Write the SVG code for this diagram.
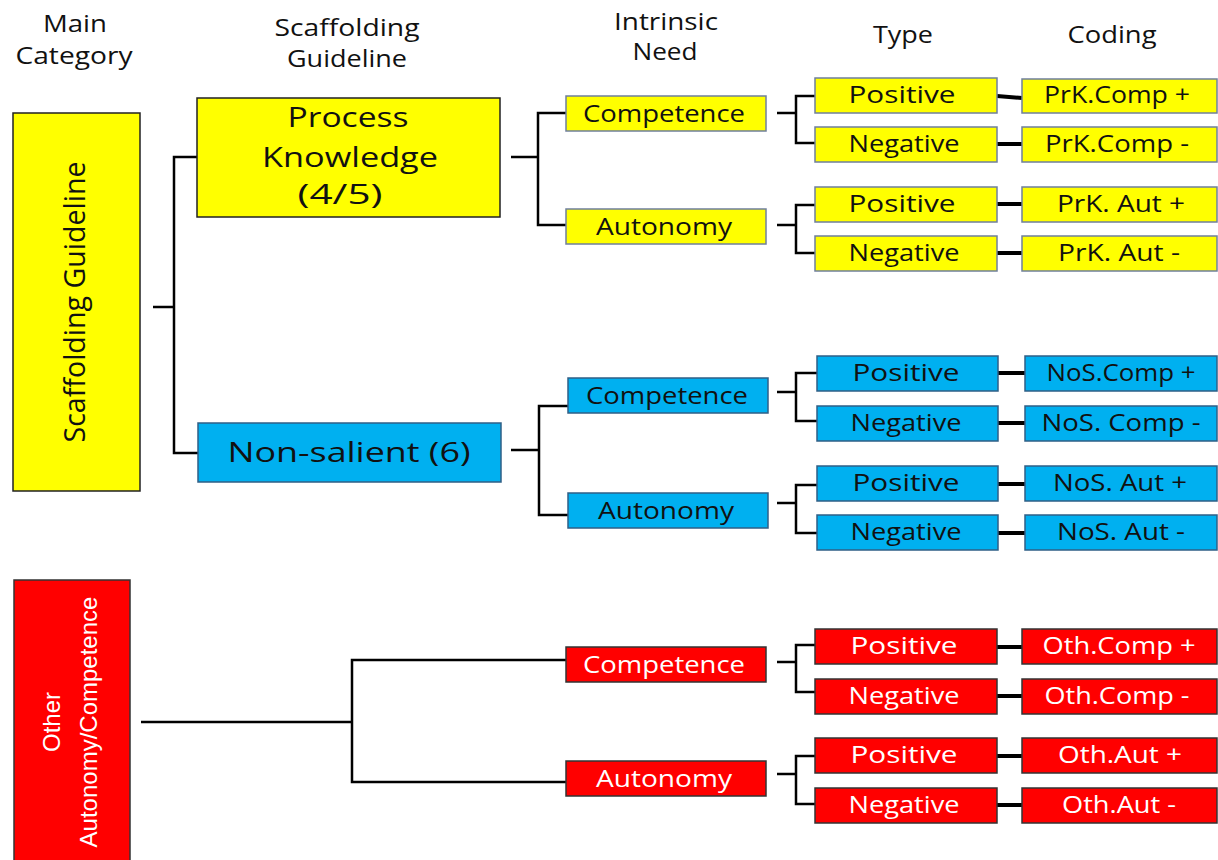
<svg xmlns="http://www.w3.org/2000/svg" width="1218" height="860" viewBox="0 0 1218 860">
<style>
text{font-family:"Open Sans","Liberation Sans",sans-serif;text-anchor:middle;fill:#111}
.h{font-size:23px}
.n{font-size:24px}
.s{font-size:23px}
.big{font-size:27px}
.w{fill:#fff}
.yb{fill:#FFFF00;stroke:#222;stroke-width:1.5}
.ys{fill:#FFFF00;stroke:#6F7F9C;stroke-width:1.5}
.bs{fill:#00B0F0;stroke:#2F5F86;stroke-width:1.5}
.rs{fill:#FF0000;stroke:#333;stroke-width:1.5}
.c{fill:none;stroke:#000;stroke-width:2.5}
.ct{fill:none;stroke:#000;stroke-width:4}
</style>
<rect width="1218" height="860" fill="#fff"/>
<g id="headers">
<text class="h" x="75" y="32" textLength="64" lengthAdjust="spacingAndGlyphs">Main</text>
<text class="h" x="74" y="64" textLength="117" lengthAdjust="spacingAndGlyphs">Category</text>
<text class="h" x="347" y="36" textLength="145" lengthAdjust="spacingAndGlyphs">Scaffolding</text>
<text class="h" x="347" y="67" textLength="120" lengthAdjust="spacingAndGlyphs">Guideline</text>
<text class="h" x="666" y="30" textLength="104" lengthAdjust="spacingAndGlyphs">Intrinsic</text>
<text class="h" x="665" y="60" textLength="65" lengthAdjust="spacingAndGlyphs">Need</text>
<text class="h" x="903" y="43" textLength="60" lengthAdjust="spacingAndGlyphs">Type</text>
<text class="h" x="1112" y="43" textLength="89" lengthAdjust="spacingAndGlyphs">Coding</text>
</g>
<g id="connectors">
<path class="c" d="M197,157 H174 V453 H198 M153,307 H174"/>
<path class="c" d="M511,157 H538 M566,113 H538 V225 H566"/>
<path class="c" d="M777,113 H796 M815,96 H796 V143 H815"/>
<path class="c" d="M777,225 H796 M815,205 H796 V253 H815"/>
<path class="ct" d="M997,96 L1022,98 M997,144 H1022 M997,204 H1022 M997,253 H1022"/>
<path class="c" d="M511,450 H539 M568,406 H539 V515 H568"/>
<path class="c" d="M777,392 H796 M817,373 H796 V421 H817"/>
<path class="c" d="M777,503 H796 M817,485 H796 V533 H817"/>
<path class="ct" d="M998,373 H1025 M998,423 H1025 M998,484 H1025 M998,533 H1025"/>
<path class="c" d="M141,722 H352 M566,660 H352 V782 H566"/>
<path class="c" d="M777,662 H796 M815,645 H796 V692 H815"/>
<path class="c" d="M777,774 H796 M815,756 H796 V804 H815"/>
<path class="ct" d="M997,647 H1022 M997,696 H1022 M997,756 H1022 M997,805 H1022"/>
</g>
<g id="main-scaffolding">
<rect class="yb" x="13" y="113" width="127" height="378"/>
<text transform="translate(85,302) rotate(-90)" style="font-size:30px" textLength="281" lengthAdjust="spacingAndGlyphs">Scaffolding Guideline</text>
</g>
<g id="main-other">
<rect class="rs" x="14" y="580" width="116" height="300"/>
<text class="w" transform="translate(60,722) rotate(-90)" style="font-family:'Liberation Sans',Arial,sans-serif;font-size:24px">Other</text>
<text class="w" transform="translate(97,722) rotate(-90)" style="font-family:'Liberation Sans',Arial,sans-serif;font-size:24px">Autonomy/Competence</text>
</g>
<g id="process-knowledge">
<rect class="yb" x="197" y="98" width="303" height="119"/>
<text class="big" x="348" y="127" textLength="121" lengthAdjust="spacingAndGlyphs">Process</text>
<text class="big" x="350" y="167" textLength="176" lengthAdjust="spacingAndGlyphs">Knowledge</text>
<text class="big" x="340" y="204" textLength="85" lengthAdjust="spacingAndGlyphs">(4/5)</text>
</g>
<g id="non-salient">
<rect class="bs" x="198" y="423" width="303" height="59"/>
<text class="big" x="349" y="462" textLength="243" lengthAdjust="spacingAndGlyphs">Non-salient (6)</text>
</g>
<g id="prk-competence"><rect class="ys" x="566" y="96" width="200" height="35"/><text class="n" x="664" y="122" textLength="162" lengthAdjust="spacingAndGlyphs">Competence</text></g>
<g id="prk-autonomy"><rect class="ys" x="566" y="209" width="200" height="35"/><text class="n" x="664" y="235" textLength="136" lengthAdjust="spacingAndGlyphs">Autonomy</text></g>
<g id="prk-comp-pos"><rect class="ys" x="815" y="78" width="182" height="35"/><text class="s" x="902" y="103" textLength="107" lengthAdjust="spacingAndGlyphs">Positive</text></g>
<g id="prk-comp-neg"><rect class="ys" x="815" y="127" width="182" height="35"/><text class="s" x="904" y="152" textLength="111" lengthAdjust="spacingAndGlyphs">Negative</text></g>
<g id="prk-aut-pos"><rect class="ys" x="815" y="187" width="182" height="35"/><text class="s" x="902" y="212" textLength="107" lengthAdjust="spacingAndGlyphs">Positive</text></g>
<g id="prk-aut-neg"><rect class="ys" x="815" y="236" width="182" height="35"/><text class="s" x="904" y="261" textLength="111" lengthAdjust="spacingAndGlyphs">Negative</text></g>
<g id="prk-comp-pos-code"><rect class="ys" x="1022" y="79" width="195" height="34"/><text class="s" x="1117" y="103" textLength="146" lengthAdjust="spacingAndGlyphs">PrK.Comp +</text></g>
<g id="prk-comp-neg-code"><rect class="ys" x="1022" y="127" width="195" height="35"/><text class="s" x="1117" y="152" textLength="144" lengthAdjust="spacingAndGlyphs">PrK.Comp -</text></g>
<g id="prk-aut-pos-code"><rect class="ys" x="1022" y="187" width="195" height="35"/><text class="s" x="1121" y="212" textLength="128" lengthAdjust="spacingAndGlyphs">PrK. Aut +</text></g>
<g id="prk-aut-neg-code"><rect class="ys" x="1022" y="236" width="195" height="35"/><text class="s" x="1119" y="261" textLength="122" lengthAdjust="spacingAndGlyphs">PrK. Aut -</text></g>
<g id="nos-competence"><rect class="bs" x="568" y="378" width="200" height="35"/><text class="n" x="667" y="404" textLength="162" lengthAdjust="spacingAndGlyphs">Competence</text></g>
<g id="nos-autonomy"><rect class="bs" x="568" y="493" width="200" height="35"/><text class="n" x="666" y="519" textLength="136" lengthAdjust="spacingAndGlyphs">Autonomy</text></g>
<g id="nos-comp-pos"><rect class="bs" x="817" y="356" width="181" height="35"/><text class="s" x="906" y="381" textLength="107" lengthAdjust="spacingAndGlyphs">Positive</text></g>
<g id="nos-comp-neg"><rect class="bs" x="817" y="406" width="181" height="35"/><text class="s" x="906" y="431" textLength="111" lengthAdjust="spacingAndGlyphs">Negative</text></g>
<g id="nos-aut-pos"><rect class="bs" x="817" y="466" width="181" height="35"/><text class="s" x="906" y="491" textLength="107" lengthAdjust="spacingAndGlyphs">Positive</text></g>
<g id="nos-aut-neg"><rect class="bs" x="817" y="515" width="181" height="35"/><text class="s" x="906" y="540" textLength="111" lengthAdjust="spacingAndGlyphs">Negative</text></g>
<g id="nos-comp-pos-code"><rect class="bs" x="1025" y="356" width="192" height="35"/><text class="s" x="1121" y="381" textLength="149" lengthAdjust="spacingAndGlyphs">NoS.Comp +</text></g>
<g id="nos-comp-neg-code"><rect class="bs" x="1025" y="406" width="192" height="35"/><text class="s" x="1121" y="431" textLength="159" lengthAdjust="spacingAndGlyphs">NoS. Comp -</text></g>
<g id="nos-aut-pos-code"><rect class="bs" x="1025" y="466" width="192" height="35"/><text class="s" x="1120" y="491" textLength="134" lengthAdjust="spacingAndGlyphs">NoS. Aut +</text></g>
<g id="nos-aut-neg-code"><rect class="bs" x="1025" y="515" width="192" height="35"/><text class="s" x="1121" y="540" textLength="128" lengthAdjust="spacingAndGlyphs">NoS. Aut -</text></g>
<g id="oth-competence"><rect class="rs" x="566" y="647" width="200" height="35"/><text class="n w" x="664" y="673" textLength="162" lengthAdjust="spacingAndGlyphs">Competence</text></g>
<g id="oth-autonomy"><rect class="rs" x="566" y="761" width="200" height="35"/><text class="n w" x="664" y="787" textLength="136" lengthAdjust="spacingAndGlyphs">Autonomy</text></g>
<g id="oth-comp-pos"><rect class="rs" x="815" y="629" width="182" height="35"/><text class="s w" x="904" y="654" textLength="107" lengthAdjust="spacingAndGlyphs">Positive</text></g>
<g id="oth-comp-neg"><rect class="rs" x="815" y="679" width="182" height="35"/><text class="s w" x="904" y="704" textLength="111" lengthAdjust="spacingAndGlyphs">Negative</text></g>
<g id="oth-aut-pos"><rect class="rs" x="815" y="738" width="182" height="35"/><text class="s w" x="904" y="763" textLength="107" lengthAdjust="spacingAndGlyphs">Positive</text></g>
<g id="oth-aut-neg"><rect class="rs" x="815" y="788" width="182" height="35"/><text class="s w" x="904" y="813" textLength="111" lengthAdjust="spacingAndGlyphs">Negative</text></g>
<g id="oth-comp-pos-code"><rect class="rs" x="1022" y="629" width="195" height="35"/><text class="s w" x="1119" y="654" textLength="153" lengthAdjust="spacingAndGlyphs">Oth.Comp +</text></g>
<g id="oth-comp-neg-code"><rect class="rs" x="1022" y="679" width="195" height="35"/><text class="s w" x="1117" y="704" textLength="145" lengthAdjust="spacingAndGlyphs">Oth.Comp -</text></g>
<g id="oth-aut-pos-code"><rect class="rs" x="1022" y="738" width="195" height="35"/><text class="s w" x="1120" y="763" textLength="124" lengthAdjust="spacingAndGlyphs">Oth.Aut +</text></g>
<g id="oth-aut-neg-code"><rect class="rs" x="1022" y="788" width="195" height="35"/><text class="s w" x="1119" y="813" textLength="114" lengthAdjust="spacingAndGlyphs">Oth.Aut -</text></g>
</svg>
